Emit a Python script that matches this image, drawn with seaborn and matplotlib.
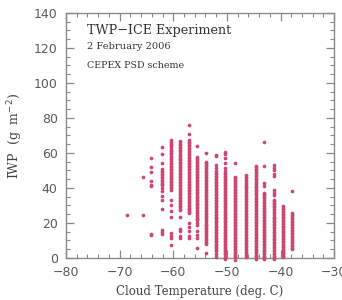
import seaborn as sns
import matplotlib.pyplot as plt
import pandas as pd
from matplotlib.ticker import MultipleLocator

sns.set_theme(style="ticks")

# Cloud temperature bins (deg. C)
temps = [-68.7, -65.6, -64.1, -62.1, -60.4, -58.7, -57.0, -55.6, -53.9,
         -52.1, -50.3, -48.4, -46.5, -44.6, -43.0, -41.3, -39.6, -37.9]

# IWP values (g m-2), one list per temperature bin
iwp_cols = [
    [24.6],
    [24.6, 46.5],
    [57.0, 51.8, 49.3, 44.2, 41.7, 40.9, 13.5, 12.9],
    [63.6, 59.4, 54.0, 50.7, 49.8, 49.0, 48.1, 47.3, 46.5, 45.6, 44.8, 43.9,
     43.1, 42.4, 41.7, 40.2, 38.1, 35.6, 33.4, 27.8, 16.0, 14.9, 13.6],
    [67.2, 66.3, 65.4, 64.5, 63.7, 62.8, 61.9, 61.1, 60.2, 59.4, 58.5, 57.3,
     56.4, 55.2, 54.3, 53.5, 52.6, 51.8, 50.9, 50.1, 49.2, 48.4, 47.5, 46.7,
     45.8, 45.0, 44.1, 43.3, 42.4, 41.6, 40.7, 39.9, 39.0, 33.0, 30.3, 26.6,
     23.5, 14.2, 12.6, 11.2, 7.4],
    [67.0, 66.1, 65.3, 64.4, 63.4, 62.6, 61.7, 60.9, 60.0, 59.1, 58.3, 57.4,
     56.5, 55.7, 54.8, 54.0, 53.1, 52.2, 51.4, 50.5, 49.7, 48.8, 47.9, 47.1,
     46.2, 45.4, 44.5, 43.6, 42.8, 41.9, 41.1, 40.2, 39.3, 38.5, 37.6, 36.8,
     35.9, 35.0, 34.2, 33.3, 32.5, 31.6, 30.7, 29.9, 29.0, 28.2, 27.4, 23.2,
     16.6, 15.3, 12.4, 11.4],
    [76.0, 70.9, 67.4, 66.5, 65.7, 64.8, 63.9, 63.1, 62.2, 61.4, 60.5, 59.6,
     58.8, 57.9, 57.1, 56.2, 55.3, 54.5, 53.6, 52.8, 51.9, 51.0, 50.2, 49.3,
     48.5, 47.6, 46.7, 45.9, 45.0, 44.2, 43.3, 42.4, 41.6, 40.7, 39.9, 39.0,
     38.1, 37.3, 36.4, 35.6, 34.7, 33.8, 33.0, 32.1, 31.3, 30.4, 29.5, 28.7,
     27.8, 27.0, 26.1, 25.7, 19.9, 17.9, 15.2, 12.4, 11.4],
    [64.2, 57.5, 56.6, 55.8, 54.9, 54.1, 53.2, 52.3, 51.5, 50.6, 49.8, 48.9,
     48.0, 47.2, 46.3, 45.5, 44.6, 43.7, 42.9, 42.0, 41.2, 40.3, 39.4, 38.6,
     37.7, 36.9, 36.0, 35.1, 34.3, 33.4, 32.6, 31.7, 30.8, 30.0, 29.1, 28.3,
     27.4, 26.5, 25.7, 24.8, 24.0, 23.1, 22.2, 21.7, 20.0, 18.8, 15.6, 13.2,
     11.4, 5.8],
    [59.8, 55.0, 54.1, 53.3, 52.4, 51.6, 50.7, 49.8, 49.0, 48.1, 47.3, 46.4,
     45.5, 44.7, 43.8, 43.0, 42.1, 41.2, 40.4, 39.5, 38.7, 37.8, 36.9, 36.1,
     35.2, 34.4, 33.5, 32.6, 31.8, 30.9, 30.1, 29.2, 28.3, 27.5, 26.6, 25.8,
     24.9, 24.0, 23.2, 22.3, 21.5, 20.6, 19.7, 18.9, 18.0, 17.2, 16.3, 15.4,
     14.6, 13.7, 12.9, 12.0, 11.1, 10.3, 9.4, 8.6, 8.0, 2.7],
    [58.9, 58.0, 53.0, 51.4, 49.5, 48.6, 47.8, 46.9, 46.1, 45.2, 44.3, 43.5,
     42.6, 41.8, 40.9, 40.0, 39.2, 38.3, 37.5, 36.6, 35.7, 34.9, 34.0, 33.2,
     32.3, 31.4, 30.6, 29.7, 28.9, 28.0, 27.1, 26.3, 25.4, 24.6, 23.7, 22.8,
     22.0, 21.1, 20.3, 19.4, 18.5, 17.7, 16.8, 16.0, 15.1, 14.2, 13.4, 12.5,
     11.7, 10.8, 9.9, 9.1, 8.2, 7.4, 6.5, 5.6, 4.8, 3.9, 2.3, 0.8],
    [60.8, 59.4, 57.0, 54.1, 51.4, 49.5, 48.6, 47.8, 46.9, 46.1, 45.2, 44.3,
     43.5, 42.6, 41.8, 40.9, 40.0, 39.2, 38.3, 37.5, 36.6, 35.7, 34.9, 34.0,
     33.2, 32.3, 31.4, 30.6, 29.7, 28.9, 28.0, 27.1, 26.3, 25.4, 24.6, 23.7,
     22.8, 22.0, 21.1, 20.3, 19.4, 18.5, 17.7, 16.8, 16.0, 15.1, 14.2, 13.4,
     12.5, 11.7, 10.8, 9.9, 9.1, 8.2, 7.4, 6.5, 5.6, 4.8, 3.9, 3.1, 2.2,
     0.5, -0.8],
    [54.0, 46.5, 45.6, 44.8, 43.9, 43.1, 42.2, 41.4, 40.5, 39.6, 38.8, 37.9,
     37.1, 36.2, 35.3, 34.5, 33.6, 32.8, 31.9, 31.0, 30.2, 29.3, 28.5, 27.6,
     26.7, 25.9, 25.0, 24.2, 23.3, 22.4, 21.6, 20.7, 19.9, 19.0, 18.1, 17.3,
     16.4, 15.6, 14.7, 13.8, 13.0, 12.1, 11.3, 10.4, 9.5, 8.7, 7.8, 7.0, 6.1,
     5.2, 4.4, 3.5, 2.7, 1.8, 0.9, 0.3, -0.9],
    [47.4, 46.5, 45.7, 44.8, 44.0, 43.1, 42.2, 41.4, 40.5, 39.7, 38.8, 37.9,
     37.1, 36.2, 35.4, 34.5, 33.6, 32.8, 31.9, 31.1, 30.2, 29.3, 28.5, 27.6,
     26.8, 25.9, 25.0, 24.2, 23.3, 22.5, 21.6, 20.7, 19.9, 19.0, 18.2, 17.3,
     16.4, 15.6, 14.7, 13.9, 13.0, 12.1, 11.3, 10.4, 9.6, 8.7, 7.8, 7.0, 6.1,
     5.3, 4.4, 3.5, 2.7, 1.8, 0.8],
    [52.6, 51.7, 50.9, 50.0, 49.2, 48.3, 47.4, 46.6, 45.7, 44.9, 44.0, 43.1,
     42.3, 41.4, 40.6, 39.7, 38.8, 38.0, 37.1, 36.3, 35.4, 34.5, 33.7, 32.8,
     32.0, 31.1, 30.2, 29.4, 28.5, 27.7, 26.8, 25.9, 25.1, 24.2, 23.4, 22.5,
     21.6, 20.8, 19.9, 19.1, 18.2, 17.3, 16.5, 15.6, 14.8, 13.9, 13.0, 12.2,
     11.3, 10.5, 9.6, 8.7, 7.9, 7.0, 6.2, 5.3, 4.4, 3.6, 2.7, 1.9, 1.0, 0.3,
     -0.8],
    [66.1, 52.8, 42.6, 41.0, 37.4, 36.5, 35.7, 34.8, 34.0, 33.1, 32.2, 31.4,
     30.5, 29.7, 28.8, 27.9, 27.1, 26.2, 25.4, 24.5, 23.6, 22.8, 21.9, 21.1,
     20.2, 19.3, 18.5, 17.6, 16.8, 15.9, 15.0, 14.2, 13.3, 12.5, 11.6, 10.7,
     9.9, 9.0, 8.2, 7.3, 6.4, 5.6, 4.7, 3.9, 3.0, 2.1, 1.3, 0.4, -0.8],
    [53.3, 51.5, 50.0, 48.2, 46.6, 38.9, 37.4, 36.1, 33.2, 32.3, 31.5, 30.6,
     29.8, 28.9, 28.0, 27.2, 26.3, 25.5, 24.6, 23.7, 22.9, 22.0, 21.2, 20.3,
     19.4, 18.6, 17.7, 16.9, 16.0, 15.1, 14.3, 13.4, 12.6, 11.7, 10.8, 10.0,
     9.1, 8.3, 7.4, 6.5, 5.7, 4.8, 4.0, 3.1, 2.2, 1.4, 0.5, -0.8],
    [29.5, 28.6, 27.8, 26.9, 26.1, 25.2, 24.3, 23.5, 22.6, 21.8, 20.9, 20.0,
     19.2, 18.3, 17.5, 16.6, 15.7, 14.9, 14.0, 13.2, 12.3, 11.4, 10.6, 9.7,
     8.9, 8.0, 7.1, 6.3, 5.4, 4.6, 3.7, 2.8, 2.0, 1.1, 0.3],
    [38.0, 25.6, 24.7, 23.9, 23.0, 22.2, 21.3, 20.4, 19.6, 18.7, 17.9, 17.0,
     16.1, 15.3, 14.4, 13.6, 12.7, 11.8, 11.0, 10.1, 9.3, 8.4, 7.5, 6.7, 5.8,
     5.0],
]

rows = [(t, v) for t, col in zip(temps, iwp_cols) for v in col]
df = pd.DataFrame(rows, columns=["temp", "iwp"])

fig = plt.figure(figsize=(3.42, 3.0), dpi=100)
ax = fig.add_axes([0.193, 0.14, 0.784, 0.817])

sns.scatterplot(data=df, x="temp", y="iwp", ax=ax, s=7, color="#cc4770",
                linewidth=0, marker="o", legend=False, clip_on=False,
                zorder=3)

ax.set_xlim(-80, -30)
ax.set_ylim(0, 140)
ax.xaxis.set_major_locator(MultipleLocator(10))
ax.xaxis.set_minor_locator(MultipleLocator(2))
ax.yaxis.set_major_locator(MultipleLocator(20))
ax.yaxis.set_minor_locator(MultipleLocator(5))

frame = "#8a8a8a"
for sp in ax.spines.values():
    sp.set_color(frame)
    sp.set_linewidth(1.0)
ax.tick_params(which="both", direction="in", top=True, right=True,
               color=frame, labelcolor="#5a5a5a", labelsize=9, pad=6)
ax.tick_params(which="major", length=6, width=0.9)
ax.tick_params(which="minor", length=3, width=0.8)

serif = "DejaVu Serif"
ax.set_xlabel("Cloud Temperature (deg. C)", family=serif, fontsize=8.5,
              color="#444444", labelpad=4)
ax.set_ylabel("IWP  (g  m$^{-2}$)", family=serif, fontsize=9,
              color="#444444", labelpad=6)

ax.text(0.078, 0.93, "TWP\u2212ICE Experiment", transform=ax.transAxes,
        family=serif, fontsize=9.2, color="#333333", va="center")
ax.text(0.078, 0.861, "2 February 2006", transform=ax.transAxes,
        family=serif, fontsize=7.1, color="#333333", va="center")
ax.text(0.078, 0.784, "CEPEX PSD scheme", transform=ax.transAxes,
        family=serif, fontsize=6.8, color="#333333", va="center")

fig.savefig("out.png", dpi=100)
